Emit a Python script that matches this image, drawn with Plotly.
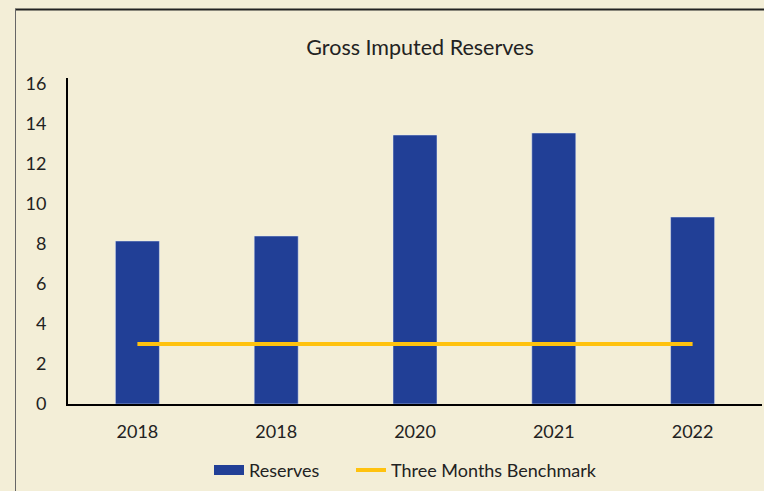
import plotly.graph_objects as go

categories = ["2018 ", "2018", "2020", "2021", "2022"]
tick_labels = ["2018", "2018", "2020", "2021", "2022"]
reserves = [8.15, 8.4, 13.45, 13.55, 9.35]
benchmark = [3, 3, 3, 3, 3]

BG = "#F3EED7"
BLUE = "#213F96"
YELLOW = "#FFC20E"
FONT = "Lato"

fig = go.Figure()
fig.add_trace(go.Bar(x=categories, y=reserves, name="Reserves", marker_color=BLUE,
                     showlegend=False, legendgroup="r"))
fig.add_trace(go.Scatter(x=[categories[0]], y=[None], mode="lines", name="Reserves",
                         line=dict(color=BLUE, width=10), legendgroup="r", legend="legend"))
fig.add_trace(go.Scatter(x=categories, y=benchmark, mode="lines", name="Three Months Benchmark",
                         line=dict(color=YELLOW, width=4), legend="legend2"))

leg_common = dict(orientation="h", y=-0.203, yanchor="middle", xanchor="left",
                  font=dict(size=18), bgcolor="rgba(0,0,0,0)")

fig.update_layout(
    width=764, height=491,
    margin=dict(l=68, r=2, t=78, b=87),
    paper_bgcolor=BG, plot_bgcolor=BG,
    font=dict(family=FONT, size=17, color="#222222"),
    title=dict(text="Gross Imputed Reserves", x=(420 / 764), xanchor="center", xref="container",
               y=1 - 47 / 491, yref="container", yanchor="middle",
               font=dict(size=21.5, family=FONT, color="#222222")),
    bargap=0.683,
    showlegend=True,
    legend=dict(x=(209 - 68) / 694, **leg_common),
    legend2=dict(x=(351 - 68) / 694, **leg_common),
    xaxis=dict(type="category", tickvals=categories, ticktext=tick_labels, showgrid=False,
               showline=True, linecolor="black", linewidth=2, ticks="", ticklabelstandoff=10,
               tickfont=dict(size=18)),
    yaxis=dict(range=[0, 16.3], tickvals=list(range(0, 17, 2)), showgrid=False, zeroline=False,
               showline=True, linecolor="black", linewidth=2, ticks="", ticklabelstandoff=16,
               tickfont=dict(size=18)),
    shapes=[
        dict(type="line", xref="paper", yref="paper", x0=(15 - 68) / 694, x1=1.01,
             y0=(404 - 9.5) / 326, y1=(404 - 9.5) / 326, line=dict(color="#222222", width=2)),
        dict(type="line", xref="paper", yref="paper", x0=(15.5 - 68) / 694, x1=(15.5 - 68) / 694,
             y0=(404 - 9) / 326, y1=-0.3, line=dict(color="#666666", width=1)),
    ],
)

fig.write_html("out.html")
